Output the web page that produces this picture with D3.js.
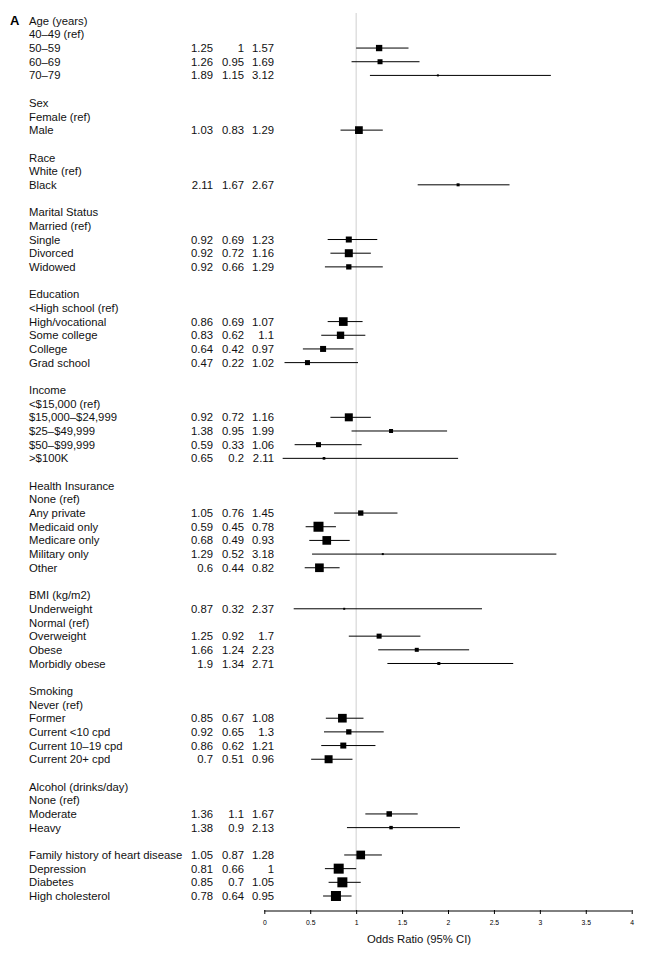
<!DOCTYPE html>
<html><head><meta charset="utf-8">
<script src="https://cdn.jsdelivr.net/npm/d3@7"></script>
<style>
html,body{margin:0;padding:0;background:#fff;}
svg{display:block;font-family:"Liberation Sans",Arial,Helvetica,sans-serif;}
</style>
</head><body>
<svg id="chart" width="647" height="957"></svg>
<script>
const labels = [
  "Age (years)","40\u201349 (ref)","50\u201359","60\u201369","70\u201379","",
  "Sex","Female (ref)","Male","",
  "Race","White (ref)","Black","",
  "Marital Status","Married (ref)","Single","Divorced","Widowed","",
  "Education","<High school (ref)","High/vocational","Some college","College","Grad school","",
  "Income","<$15,000 (ref)","$15,000\u2013$24,999","$25\u2013$49,999","$50\u2013$99,999",">$100K","",
  "Health Insurance","None (ref)","Any private","Medicaid only","Medicare only","Military only","Other","",
  "BMI (kg/m2)","Underweight","Normal (ref)","Overweight","Obese","Morbidly obese","",
  "Smoking","Never (ref)","Former","Current <10 cpd","Current 10\u201319 cpd","Current 20+ cpd","",
  "Alcohol (drinks/day)","None (ref)","Moderate","Heavy","",
  "Family history of heart disease","Depression","Diabetes","High cholesterol"
];
const oddsRatios = [
  null,null,1.25,1.26,1.89,null,
  null,null,1.03,null,
  null,null,2.11,null,
  null,null,0.92,0.92,0.92,null,
  null,null,0.86,0.83,0.64,0.47,null,
  null,null,0.92,1.38,0.59,0.65,null,
  null,null,1.05,0.59,0.68,1.29,0.6,null,
  null,0.87,null,1.25,1.66,1.9,null,
  null,null,0.85,0.92,0.86,0.7,null,
  null,null,1.36,1.38,null,
  1.05,0.81,0.85,0.78
];
const lowerCI = [
  null,null,1,0.95,1.15,null,
  null,null,0.83,null,
  null,null,1.67,null,
  null,null,0.69,0.72,0.66,null,
  null,null,0.69,0.62,0.42,0.22,null,
  null,null,0.72,0.95,0.33,0.2,null,
  null,null,0.76,0.45,0.49,0.52,0.44,null,
  null,0.32,null,0.92,1.24,1.34,null,
  null,null,0.67,0.65,0.62,0.51,null,
  null,null,1.1,0.9,null,
  0.87,0.66,0.7,0.64
];
const upperCI = [
  null,null,1.57,1.69,3.12,null,
  null,null,1.29,null,
  null,null,2.67,null,
  null,null,1.23,1.16,1.29,null,
  null,null,1.07,1.1,0.97,1.02,null,
  null,null,1.16,1.99,1.06,2.11,null,
  null,null,1.45,0.78,0.93,3.18,0.82,null,
  null,2.37,null,1.7,2.23,2.71,null,
  null,null,1.08,1.3,1.21,0.96,null,
  null,null,1.67,2.13,null,
  1.28,1,1.05,0.95
];
// relative weights (box area)
const weights = [
  null,null,40,25,4,null,
  null,null,60,null,
  null,null,9,null,
  null,null,36,64,28,null,
  null,null,75,54,36,25,null,
  null,null,64,16,25,7,null,
  null,null,28,100,75,4,75,null,
  null,4,null,25,16,9,null,
  null,null,75,28,36,64,null,
  null,null,30,12,null,
  75,100,100,100
];
const xTicks = [0,0.5,1,1.5,2,2.5,3,3.5,4];
const xTitle = "Odds Ratio (95% CI)";
const panelLabel = "A";

const rows = labels.map((l,i)=>({label:l, or:oddsRatios[i], lo:lowerCI[i], hi:upperCI[i], w:weights[i], i}));
const svg = d3.select("#chart");
const fs = 11.3;

const y = d3.scaleLinear().domain([0, labels.length-1]).range([20.7, 896]);
const x = d3.scaleLinear().domain([0,4]).range([264.3, 631.7]);
const box = d3.scaleSqrt().domain([0,100]).range([0,10]);
const axisY = 911;

// panel label
svg.append("text").attr("x",10).attr("y",y(0)).attr("dy","0.36em")
  .attr("font-size",13).attr("font-weight","bold").text(panelLabel);

// reference line
svg.append("line").attr("x1",x(1)).attr("x2",x(1)).attr("y1",13).attr("y2",axisY)
  .attr("stroke","#cfcfcf").attr("stroke-width",1);

// labels
svg.append("g").selectAll("text").data(rows).join("text")
  .attr("x",29).attr("y",d=>y(d.i)).attr("dy","0.36em")
  .attr("font-size",fs).attr("fill","#111").text(d=>d.label);

const est = rows.filter(d=>d.or!==null);
const cols = [["or",213],["lo",244],["hi",274]];
cols.forEach(([k,cx])=>{
  svg.append("g").selectAll("text").data(est).join("text")
    .attr("x",cx).attr("y",d=>y(d.i)).attr("dy","0.36em")
    .attr("text-anchor","end").attr("font-size",fs).attr("fill","#111")
    .text(d=>String(d[k]));
});

// CI lines
svg.append("g").selectAll("line").data(est).join("line")
  .attr("x1",d=>x(d.lo)).attr("x2",d=>x(d.hi))
  .attr("y1",d=>y(d.i)).attr("y2",d=>y(d.i))
  .attr("stroke","#000").attr("stroke-width",1);

// boxes
svg.append("g").selectAll("rect").data(est).join("rect")
  .attr("x",d=>x(d.or)-box(d.w)/2).attr("y",d=>y(d.i)-box(d.w)/2)
  .attr("width",d=>box(d.w)).attr("height",d=>box(d.w)).attr("fill","#000");

// axis
const axis = d3.axisBottom(x).tickValues(xTicks).tickFormat(d=>String(d)).tickSize(3).tickPadding(6);
const gAxis = svg.append("g").attr("transform",`translate(0,${axisY})`).call(axis);
gAxis.select(".domain").attr("d",`M${x(0)},0H${x(4)}`).attr("stroke","#000");
gAxis.selectAll(".tick line").attr("stroke","#000").attr("y1",-1);
gAxis.selectAll(".tick text").attr("font-size",6.8).attr("font-family","Liberation Sans, Arial, sans-serif").attr("fill","#000");

svg.append("text").attr("x",419).attr("y",939).attr("dy","0.36em")
  .attr("text-anchor","middle").attr("font-size",fs).attr("fill","#111").text(xTitle);
</script>
</body></html>
